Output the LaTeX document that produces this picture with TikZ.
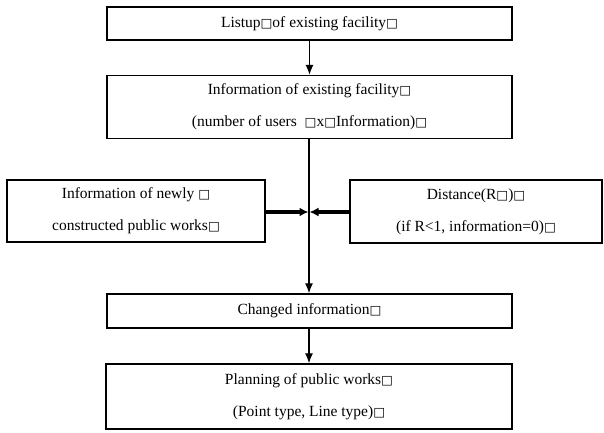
\documentclass[tikz,border=0pt]{standalone}
\usepackage{fontspec}
\setmainfont{Liberation Serif}
\newfontfamily\symfont{DejaVu Sans}
\newcommand{\bx}{{\symfont\fontsize{12.5}{12}\selectfont □}}
\usetikzlibrary{arrows.meta}
\begin{document}
\begin{tikzpicture}[x=1pt,y=-1pt,
  box/.style={draw, line width=1.4pt, minimum width=#1, align=center, inner sep=0pt,
    font=\fontsize{15.5}{32}\selectfont},
  box/.default=405pt,
  arr/.style={line width=1.3pt, -{Latex[length=10pt,width=8pt]}},
  tharr/.style={line width=3.2pt, -{Latex[length=9pt,width=9pt]}}]
\useasboundingbox (0,0) rectangle (604,432);
\node[box, minimum height=33pt] (b1) at (309.5,23.5) {Listup\bx of existing facility\bx};
\node[box, minimum height=63pt] (b2) at (309.5,107) {Information of existing facility\bx\\(number of users\ \ \bx x\bx Information)\bx};
\node[box=258pt, minimum height=62pt] (l) at (136,211) {Information of newly \bx\\constructed public works\bx};
\node[box=252pt, minimum height=63pt] (r) at (476,211.5) {Distance(R\bx)\bx\\(if R<1, information=0)\bx};
\node[box, minimum height=34pt] (b3) at (309.5,311) {Changed information\bx};
\node[box=406pt, minimum height=65pt] (b4) at (309,396.5) {Planning of public works\bx\\(Point type, Line type)\bx};
\coordinate (j) at (309,212);
\draw[arr] (b1) -- (b2);
\draw[arr] (b2.south -| j) -- (b3.north -| j);
\draw[arr] (b3.south -| j) -- (b4.north -| j);
\draw[tharr] (l.east |- j) -- ([xshift=-0.5pt]j);
\draw[tharr] (r.west |- j) -- ([xshift=0.5pt]j);
\end{tikzpicture}
\end{document}
